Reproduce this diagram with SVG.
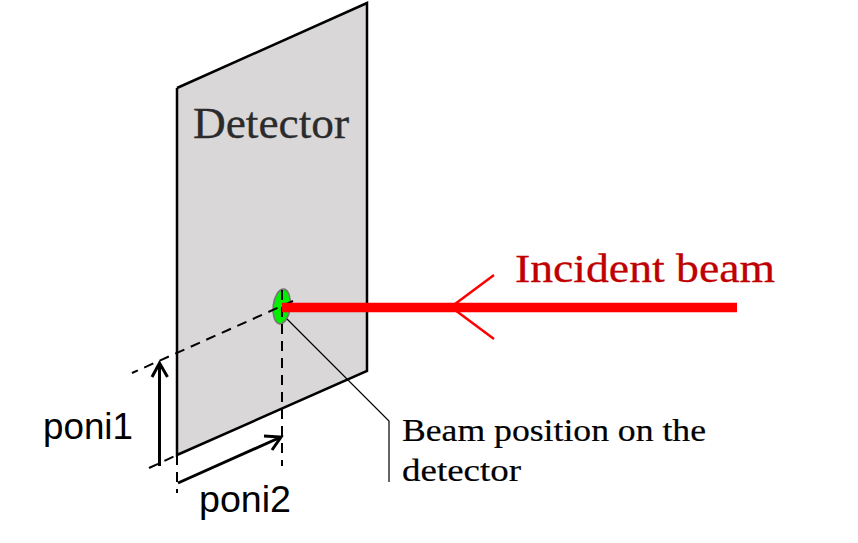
<svg xmlns="http://www.w3.org/2000/svg" width="858" height="543" viewBox="0 0 858 543">
<style>
.s{font-family:"Liberation Serif","DejaVu Serif",serif}
.a{font-family:"Liberation Sans",Arial,sans-serif;font-size:37.500px;fill:#000}
.d{fill:none;stroke:#000;stroke-width:2;stroke-dasharray:10 7}
.k{fill:none;stroke:#000;stroke-width:3}
</style>
<rect width="858" height="543" fill="#fff"/>
<g id="detector">
<polygon points="177,88 367,3 367,371 177,455" fill="#d9d7d8"/>
<path d="M177,88L367,3V371L177,455V88" fill="none" stroke="#000" stroke-width="2.500"/>
<text class="s" x="193" y="138" font-size="44" fill="#2b2b2b" stroke="#2b2b2b" stroke-width="0.300" textLength="156" lengthAdjust="spacingAndGlyphs">Detector</text>
</g>
<g id="beam-spot">
<ellipse cx="281.700" cy="306.500" rx="8.500" ry="17.500" transform="rotate(7 281.700 306.500)" fill="#00f000" stroke="#777" stroke-width="1.600"/>
</g>
<g id="connectors">
<path class="d" d="M293,301L132,373"/>
<path class="d" d="M282,290V466"/>
<path class="d" d="M149,468L177,455"/>
<path class="d" d="M177,455V493"/>
<path d="M287,319L389,421V482" fill="none" stroke="#000" stroke-width="1.200"/>
<path class="k" d="M159.500,466V363M152,377L159.500,363L167.500,377"/>
<path class="k" d="M178,483L281,437M264,436L281,437L272,450"/>
<path d="M282,307.500H737" stroke="#f00" stroke-width="9.500" fill="none"/>
<path d="M494,275L451,307L494,339" stroke="#f00" stroke-width="2.500" fill="none"/>
</g>
<g id="labels">
<text class="s" x="515" y="282" font-size="41" fill="#c00000" stroke="#c00000" stroke-width="0.300" textLength="260" lengthAdjust="spacingAndGlyphs">Incident beam</text>
<text class="s" x="402" y="441" font-size="31" fill="#000" stroke="#000" stroke-width="0.200" textLength="304" lengthAdjust="spacingAndGlyphs">Beam position on the</text>
<text class="s" x="402" y="481" font-size="31" fill="#000" stroke="#000" stroke-width="0.200" textLength="119" lengthAdjust="spacingAndGlyphs">detector</text>
<text class="a" x="43" y="439" textLength="90" lengthAdjust="spacingAndGlyphs">poni1</text>
<text class="a" x="199" y="512" textLength="92" lengthAdjust="spacingAndGlyphs">poni2</text>
</g>
</svg>
